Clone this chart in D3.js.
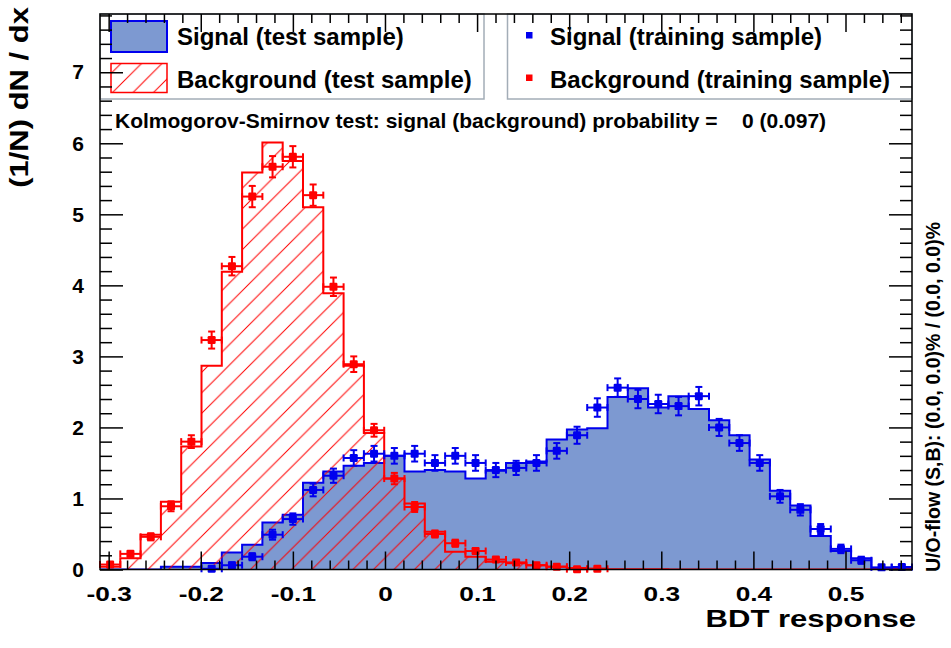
<!DOCTYPE html>
<html>
<head>
<meta charset="utf-8">
<script src="https://cdn.jsdelivr.net/npm/d3@7"></script>
<style>
  html, body { margin: 0; padding: 0; background: #fff; }
  svg { display: block; }
  text { font-family: "Liberation Sans", Arial, Helvetica, sans-serif; font-weight: bold; fill: #000; }
</style>
</head>
<body>
<svg id="chart" width="951" height="648"></svg>
<script>
// ---- Histogram binning of the BDT response ----
const binRange = [-0.3094, 0.5722];
const nBins = 40;

// Normalised test-sample histograms, one value per bin
const signalTest = [
  0, 0, 0, 0.04, 0.04, 0.09, 0.24, 0.35, 0.66, 0.77,
  1.22, 1.38, 1.46, 1.50, 1.60, 1.38, 1.40, 1.38, 1.28, 1.39,
  1.50, 1.52, 1.83, 1.97, 1.99, 2.43, 2.55, 2.28, 2.44, 2.26,
  2.10, 1.89, 1.55, 1.11, 0.90, 0.47, 0.26, 0.16, 0.02, 0.02
];
const backgroundTest = [
  0.04, 0.16, 0.49, 0.955, 1.73, 2.87, 4.19, 5.59, 6.01, 5.75,
  5.10, 3.89, 2.87, 1.92, 1.28, 0.93, 0.53, 0.25, 0.18, 0.11,
  0.087, 0.06, 0.04, 0.02, 0.01, 0.005, 0.005, 0.005, 0, 0,
  0, 0, 0, 0, 0, 0, 0, 0, 0, 0
];

// Training-sample points (null = empty bin) and their errors
const signalTrain = [
  null, null, null, null, null, 0.01, 0.06, 0.18, 0.49, 0.71,
  1.12, 1.32, 1.57, 1.63, 1.60, 1.63, 1.50, 1.60, 1.50, 1.40,
  1.43, 1.50, 1.67, 1.89, 2.28, 2.56, 2.40, 2.33, 2.30, 2.44,
  2.00, 1.78, 1.50, 1.03, 0.84, 0.57, 0.29, 0.13, 0.03, 0.035
];
const signalTrainErr = [
  0, 0, 0, 0, 0, 0.03, 0.04, 0.05, 0.07, 0.08,
  0.09, 0.10, 0.11, 0.11, 0.11, 0.11, 0.11, 0.11, 0.11, 0.10,
  0.10, 0.11, 0.11, 0.12, 0.13, 0.13, 0.13, 0.13, 0.13, 0.13,
  0.12, 0.11, 0.11, 0.09, 0.08, 0.07, 0.06, 0.05, 0.03, 0.03
];
const backgroundTrain = [
  0.07, 0.22, 0.46, 0.89, 1.80, 3.23, 4.27, 5.25, 5.67, 5.81,
  5.27, 3.98, 2.89, 1.96, 1.28, 0.88, 0.50, 0.37, 0.26, 0.14,
  0.10, 0.06, 0.04, 0.005, 0.01, null, null, null, null, null,
  null, null, null, null, null, null, null, null, null, null
];
const backgroundTrainErr = [
  0.03, 0.04, 0.05, 0.07, 0.09, 0.12, 0.13, 0.15, 0.15, 0.15,
  0.15, 0.13, 0.11, 0.09, 0.08, 0.07, 0.05, 0.05, 0.04, 0.03,
  0.03, 0.02, 0.02, 0.01, 0.02, 0, 0, 0, 0, 0,
  0, 0, 0, 0, 0, 0, 0, 0, 0, 0
];

// Axis ticks and labels
const xTickValues = [-0.3, -0.2, -0.1, 0, 0.1, 0.2, 0.3, 0.4, 0.5];
const yTickValues = [0, 1, 2, 3, 4, 5, 6, 7];
const yMax = 7.82;
const xTitle = "BDT response";
const yTitle = "(1/N) dN / dx";
const legendLeft = ["Signal (test sample)", "Background (test sample)"];
const legendRight = ["Signal (training sample)", "Background (training sample)"];
const ksLabel = "Kolmogorov-Smirnov test: signal (background) probability =";
const ksValue = "0 (0.097)";
const overflowLabel = "U/O-flow (S,B): (0.0, 0.0)% / (0.0, 0.0)%";

// ---- Colours ----
const sigFill = "#7d99d1", sigLine = "#0000ee", bkgLine = "#ff0000";

// ---- Frame & scales ----
const frame = { left: 100, right: 912, top: 14, bottom: 569.5 };
const svg = d3.select("#chart");
const x = d3.scaleLinear().domain(binRange).range([frame.left, frame.right]);
const y = d3.scaleLinear().domain([0, yMax]).range([frame.bottom, frame.top]);

const binWidth = (binRange[1] - binRange[0]) / nBins;
const edges = d3.range(nBins + 1).map(i => binRange[0] + i * binWidth);

const defs = svg.append("defs");
defs.append("clipPath").attr("id", "plotClip")
  .append("rect")
  .attr("x", frame.left).attr("y", frame.top)
  .attr("width", frame.right - frame.left).attr("height", frame.bottom - frame.top);

const hatch = defs.append("pattern").attr("id", "hatch")
  .attr("patternUnits", "userSpaceOnUse")
  .attr("width", 20.5).attr("height", 20.5);
hatch.append("path")
  .attr("d", "M0,20.5 L20.5,0 M-5,5 L5,-5 M15.5,25.5 L25.5,15.5")
  .attr("stroke", bkgLine).attr("stroke-width", 1).attr("fill", "none");

// Step series: one point per bin left edge, plus the closing edge
function steps(values) {
  const pts = values.map((v, i) => ({ x0: edges[i], v }));
  pts.push({ x0: edges[nBins], v: values[nBins - 1] });
  return pts;
}
const area = d3.area().curve(d3.curveStepAfter)
  .x(d => x(d.x0)).y0(y(0)).y1(d => y(d.v));
const outline = d3.line().curve(d3.curveStepAfter)
  .x(d => x(d.x0)).y(d => y(d.v));

const plot = svg.append("g").attr("clip-path", "url(#plotClip)");

// Signal test histogram (filled)
plot.append("path").datum(steps(signalTest))
  .attr("d", area).attr("fill", sigFill);
plot.append("path").datum(steps(signalTest))
  .attr("d", outline).attr("fill", "none")
  .attr("stroke", sigLine).attr("stroke-width", 2);

// Background test histogram (hatched)
plot.append("path").datum(steps(backgroundTest))
  .attr("d", area).attr("fill", "url(#hatch)");
plot.append("path").datum(steps(backgroundTest))
  .attr("d", outline).attr("fill", "none")
  .attr("stroke", bkgLine).attr("stroke-width", 2);

// Training points with error bars
function drawPoints(values, errs, color) {
  const data = values.map((v, i) => ({ i, v, e: errs[i] })).filter(d => d.v !== null);
  const g = svg.append("g").attr("stroke", color).attr("stroke-width", 2).attr("fill", color);
  const p = g.selectAll("g").data(data).join("g");
  const cap = 3.5;
  // horizontal bar across the bin
  p.append("line")
    .attr("x1", d => x(edges[d.i])).attr("x2", d => x(edges[d.i + 1]))
    .attr("y1", d => y(d.v)).attr("y2", d => y(d.v));
  p.append("line")
    .attr("x1", d => x(edges[d.i])).attr("x2", d => x(edges[d.i]))
    .attr("y1", d => y(d.v) - cap).attr("y2", d => y(d.v) + cap);
  p.append("line")
    .attr("x1", d => x(edges[d.i + 1])).attr("x2", d => x(edges[d.i + 1]))
    .attr("y1", d => y(d.v) - cap).attr("y2", d => y(d.v) + cap);
  // vertical error bar
  const cx = d => x((edges[d.i] + edges[d.i + 1]) / 2);
  p.append("line")
    .attr("x1", cx).attr("x2", cx)
    .attr("y1", d => y(d.v + d.e)).attr("y2", d => y(d.v - d.e));
  p.append("line")
    .attr("x1", d => cx(d) - cap).attr("x2", d => cx(d) + cap)
    .attr("y1", d => y(d.v + d.e)).attr("y2", d => y(d.v + d.e));
  p.append("line")
    .attr("x1", d => cx(d) - cap).attr("x2", d => cx(d) + cap)
    .attr("y1", d => y(d.v - d.e)).attr("y2", d => y(d.v - d.e));
  // marker
  p.append("rect")
    .attr("x", d => cx(d) - 4).attr("y", d => y(d.v) - 4)
    .attr("width", 8).attr("height", 8).attr("rx", 1.2)
    .attr("stroke", "none");
}
drawPoints(signalTrain, signalTrainErr, sigLine);
drawPoints(backgroundTrain, backgroundTrainErr, bkgLine);

// ---- Legends ----
const legendBorder = "#a3adb7";
svg.append("rect").attr("x", 100).attr("y", 14).attr("width", 384).attr("height", 85)
  .attr("fill", "none").attr("stroke", legendBorder).attr("stroke-width", 1.5);
svg.append("rect").attr("x", 507.5).attr("y", 14).attr("width", 404.5).attr("height", 85)
  .attr("fill", "none").attr("stroke", legendBorder).attr("stroke-width", 1.5);

svg.append("rect").attr("x", 111).attr("y", 21).attr("width", 56).attr("height", 31)
  .attr("fill", sigFill).attr("stroke", sigLine).attr("stroke-width", 2);
svg.append("rect").attr("x", 111).attr("y", 63.5).attr("width", 56).attr("height", 29)
  .attr("fill", "url(#hatch)").attr("stroke", bkgLine).attr("stroke-width", 1.5);

const rowBase = [45, 87.5];
legendLeft.forEach((t, i) => {
  svg.append("text").attr("x", 177).attr("y", rowBase[i]).attr("font-size", 24).text(t);
});
[sigLine, bkgLine].forEach((c, i) => {
  svg.append("rect").attr("x", 526).attr("y", rowBase[i] - 13).attr("width", 6.5).attr("height", 6.5).attr("fill", c);
});
legendRight.forEach((t, i) => {
  svg.append("text").attr("x", 550).attr("y", rowBase[i]).attr("font-size", 24).text(t);
});

// Kolmogorov-Smirnov result
const ks = svg.append("text").attr("x", 115).attr("y", 128).attr("font-size", 21);
ks.append("tspan").text(ksLabel);
ks.append("tspan").attr("x", 742).text(ksValue);

// Under/overflow note
svg.append("text")
  .attr("transform", "translate(940,572) rotate(-90)")
  .attr("font-size", 19.5).text(overflowLabel);

// ---- Axes (ticks on all four sides, pointing inwards) ----
const xMinor = d3.range(-15, 29).map(k => k * 0.02).filter(v => Math.abs(Math.round(v * 10) - v * 10) > 1e-6);
const yMinor = d3.range(0, 40).map(k => k * 0.2).filter((v, k) => k % 5 !== 0);

function styleAxis(g) {
  g.select(".domain").remove();
  g.selectAll(".tick line").attr("stroke", "#000").attr("stroke-width", 1.5);
}

// bottom
svg.append("g").attr("transform", `translate(0,${frame.bottom})`)
  .call(d3.axisBottom(x).tickValues(xTickValues).tickSizeInner(-18).tickSizeOuter(0)
    .tickPadding(16.5).tickFormat(d => d3.format(".1f")(d).replace("\u2212", "-").replace("0.0", "0")))
  .call(styleAxis)
  .call(g => g.selectAll("text").attr("font-size", 21).attr("font-family", null)
    .attr("transform", "scale(1.25,1)"));
svg.append("g").attr("transform", `translate(0,${frame.bottom})`)
  .call(d3.axisBottom(x).tickValues(xMinor).tickSizeInner(-9).tickSizeOuter(0).tickFormat(""))
  .call(styleAxis);
// top
svg.append("g").attr("transform", `translate(0,${frame.top})`)
  .call(d3.axisTop(x).tickValues(xTickValues).tickSizeInner(-18).tickSizeOuter(0).tickFormat(""))
  .call(styleAxis);
svg.append("g").attr("transform", `translate(0,${frame.top})`)
  .call(d3.axisTop(x).tickValues(xMinor).tickSizeInner(-9).tickSizeOuter(0).tickFormat(""))
  .call(styleAxis);
// left
svg.append("g").attr("transform", `translate(${frame.left},0)`)
  .call(d3.axisLeft(y).tickValues(yTickValues).tickSizeInner(-23).tickSizeOuter(0)
    .tickPadding(16).tickFormat(d3.format("d")))
  .call(styleAxis)
  .call(g => g.selectAll("text").attr("font-size", 21).attr("font-family", null));
svg.append("g").attr("transform", `translate(${frame.left},0)`)
  .call(d3.axisLeft(y).tickValues(yMinor).tickSizeInner(-12).tickSizeOuter(0).tickFormat(""))
  .call(styleAxis);
// right
svg.append("g").attr("transform", `translate(${frame.right},0)`)
  .call(d3.axisRight(y).tickValues(yTickValues).tickSizeInner(-23).tickSizeOuter(0).tickFormat(""))
  .call(styleAxis);
svg.append("g").attr("transform", `translate(${frame.right},0)`)
  .call(d3.axisRight(y).tickValues(yMinor).tickSizeInner(-12).tickSizeOuter(0).tickFormat(""))
  .call(styleAxis);

// frame
svg.append("rect")
  .attr("x", frame.left).attr("y", frame.top)
  .attr("width", frame.right - frame.left).attr("height", frame.bottom - frame.top)
  .attr("fill", "none").attr("stroke", "#000").attr("stroke-width", 1.5);

// axis titles
svg.append("text")
  .attr("transform", "translate(916,627) scale(1.35,1)")
  .attr("text-anchor", "end").attr("font-size", 23).text(xTitle);
svg.append("text")
  .attr("transform", "translate(28,7) rotate(-90) scale(1.24,1)")
  .attr("text-anchor", "end").attr("font-size", 25).text(yTitle);
</script>
</body>
</html>
